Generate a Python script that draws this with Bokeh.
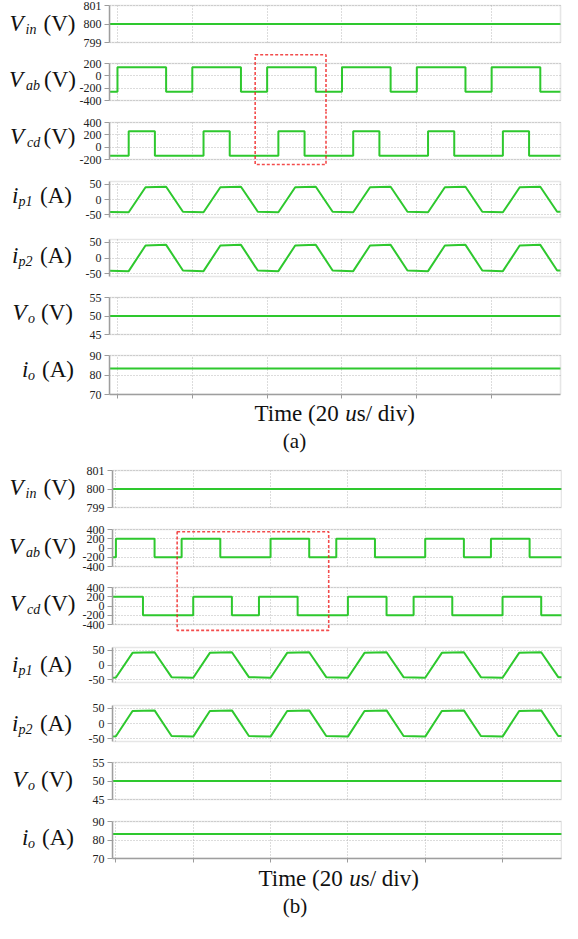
from bokeh.plotting import figure
from bokeh.layouts import column, row
from bokeh.models import Range1d, FixedTicker, Grid, Label, BoxAnnotation, LinearAxis
from bokeh.embed import file_html
from bokeh.resources import INLINE

# ===================== DATA =====================
X_TICKS = [0, 20, 40, 60, 80, 100]          # time grid, 20 us per division

PANEL_SYMBOL = ["V", "V", "V", "i", "i", "V", "i"]
PANEL_SUB = ["in", "ab", "cd", "p1", "p2", "o", "o"]
PANEL_UNIT = ["(V)", "(V)", "(V)", "(A)", "(A)", "(V)", "(A)"]
TIME_LABEL = ["Time (20", "u", "s/ div)"]
GROUP_TAGS = ["(a)", "(b)"]

# y ticks / ranges
YT_VIN = [799, 800, 801]
YT_VAB_A = [-400, -200, 0, 200]
YT_VCD_A = [-200, 0, 200, 400]
YT_VAB_B = [-400, -200, 0, 200, 400]
YT_VCD_B = [-400, -200, 0, 200, 400]
YT_IP = [-50, 0, 50]
YT_VO = [45, 50, 55]
YT_IO = [70, 80, 90]

YR_VIN = [799, 801]
YR_VAB_A = [-400, 200]
YR_VCD_A = [-200, 400]
YR_VAB_B = [-400, 400]
YR_VCD_B = [-400, 400]
YR_IP = [-59, 59]
YR_VO = [45, 55]
YR_IO = [70, 90]

# ---------- (a) ----------
XR_A = [-2.13, 118.4]
t_dc_a = [-2.13, 118.4]
vin_a = [800, 800]
vo_a = [50, 50]
io_a = [83.3, 83.3]
t_vab_a = [-2.13, 0, 13, 20, 33, 40, 53, 60, 73, 80, 93, 100, 113, 118.4]
vab_a = [-260, 140, -260, 140, -260, 140, -260, 140, -260, 140, -260, 140, -260, -260]
t_vcd_a = [-2.13, 3, 10, 23, 30, 43, 50, 63, 70, 83, 90, 103, 110, 118.4]
vcd_a = [-140, 260, -140, 260, -140, 260, -140, 260, -140, 260, -140, 260, -140, -140]
t_ip_a = [-2.13, 3, 7.5, 13, 17.5, 23, 27.5, 33, 37.5, 43, 47.5, 53, 57.5, 63,
          67.5, 73, 77.5, 83, 87.5, 93, 97.5, 103, 107.5, 113, 117.5, 118.4]
ip1_a = [-41, -42, 40, 42, -40, -42, 40, 42, -40, -42, 40, 42, -40, -42,
         40, 42, -40, -42, 40, 42, -40, -42, 40, 42, -40, -40.2]
ip2_a = [-41, -42, 40, 42, -40, -42, 40, 42, -40, -42, 40, 42, -40, -42,
         40, 42, -40, -42, 40, 42, -40, -42, 40, 42, -40, -40.2]

# ---------- (b) ----------
XR_B = [-0.88, 115.25]
t_dc_b = [-0.88, 115.25]
vin_b = [800, 800]
vo_b = [50, 50]
io_b = [83.2, 83.2]
t_vab_b = [-0.88, 0, 10, 17, 27, 40, 50, 57, 67, 80, 90, 97, 107, 115.25]
vab_b = [-200, 200, -200, 200, -200, 200, -200, 200, -200, 200, -200, 200, -200, -200]
t_vcd_b = [-0.88, 7, 20, 30, 37, 47, 60, 70, 77, 87, 100, 110, 115.25]
vcd_b = [200, -200, 200, -200, 200, -200, 200, -200, 200, -200, 200, -200, -200]
t_ip_b = [-0.88, 0, 4.3, 10, 14.4, 20, 24.3, 30, 34.4, 40, 44.3, 50, 54.4, 60,
          64.3, 70, 74.4, 80, 84.3, 90, 94.4, 100, 104.3, 110, 114.4, 115.25]
ip1_b = [-43, -42, 41, 43, -41, -43, 41, 43, -41, -43, 41, 43, -41, -43,
         41, 43, -41, -43, 41, 43, -41, -43, 41, 43, -41, -41.3]
ip2_b = [-43, -42, 41, 43, -41, -43, 41, 43, -41, -43, 41, 43, -41, -43,
         41, 43, -41, -43, 41, 43, -41, -43, 41, 43, -41, -41.3]

# ===================== LAYOUT / STYLE =====================
W = 562
FONT = "Liberation Serif"
GREEN = "#2ec82e"
GRID = "#b8b8b8"
OUTLINE = "#ababab"
AXIS = "#9c9c9c"
TXT = "#111111"
RED = "#f01e1e"
LB = 32          # room for the y tick labels
XSH = -6         # horizontal shift of the reference positions
FS_NAME = 23
FS_SUB = 14
FS_TICK = "12px"


def ty(y):
    return 1 + 0.98 * y


FR_A = [(4, 42), (63, 101), (123, 161), (183.3, 220.7), (243.3, 280.3), (302, 339.7), (361.7, 400.7)]
FR_B = [(478.3, 516.7), (538.7, 576.3), (598, 635.7), (659, 695.3), (718.3, 755.3), (776.7, 814.3), (836.7, 874.3)]
DY_A = [-1, -2.5, -4, -4, -3, -3.5, -6]
DY_B = [-1.5, -1, -2.5, -0.5, 0, -1.3, -2.2]
LAB_X = [(15, 31, 81), (14.5, 31.5, 81.5), (15.5, 32.5, 81), (17.5, 24, 77.5),
         (17.5, 24, 77.5), (18, 33.5, 78.5), (27.5, 33.5, 79.5)]


def lab(p, x, y, s, size, style="normal", align="left"):
    p.add_layout(Label(x=x, y=y, x_units="screen", y_units="screen", text=s,
                       text_font=FONT, text_font_size=f"{size}px", text_font_style=style,
                       text_align=align, text_baseline="middle", text_color=TXT))


def blank_fig(w, h):
    f = figure(width=w, height=h, x_range=Range1d(0, 1), y_range=Range1d(0, 1),
               x_axis_type=None, y_axis_type=None, toolbar_location=None, output_backend="svg",
               min_border_left=0, min_border_right=0, min_border_top=0, min_border_bottom=0)
    f.outline_line_color = None
    f.background_fill_color = "white"
    f.border_fill_color = "white"
    return f


def build_group(frames, pl_ref, pr_ref, xr, panels, top, bottom, dys,
                time_x, time_mid, tag, tag_x, tag_mid, box):
    pl = round(pl_ref + XSH)
    pr = round(pr_ref + XSH)
    ft = [round(ty(a)) for a, b in frames]
    fb = [round(ty(b)) for a, b in frames]
    io_bot = fb[6] + 8
    bounds = [top] + [round((fb[i] + ft[i + 1]) / 2) for i in range(6)] + [io_bot]
    spx = (xr[1] - xr[0]) / (pr - pl)
    x_end = xr[1] + (W - pr) * spx
    LW = pl - LB
    figs = []
    for i, (yr, yt, kind, t, v) in enumerate(panels):
        fig_top, fig_bot = bounds[i], bounds[i + 1]
        frame_bot = fb[i] if i == 6 else fig_bot
        ymin, ymax = yr
        s = (ymax - ymin) / (fb[i] - ft[i])
        y0 = ymin - (frame_bot - fb[i]) * s
        y1 = ymax + (ft[i] - fig_top) * s
        p = figure(width=W - LW, height=fig_bot - fig_top,
                   x_range=Range1d(xr[0], x_end), y_range=Range1d(y0, y1),
                   x_axis_type=None, toolbar_location=None, output_backend="svg",
                   min_border_left=LB, min_border_right=0, min_border_top=0,
                   min_border_bottom=fig_bot - frame_bot)
        p.background_fill_color = "white"
        p.border_fill_color = "white"
        p.outline_line_color = None
        ax = p.yaxis[0]
        ax.ticker = FixedTicker(ticks=yt)
        ax.bounds = (ymin, ymax)
        ax.major_label_overrides = {k: str(k) for k in yt}
        ax.axis_line_color = AXIS
        ax.axis_line_width = 1.5
        ax.major_tick_line_color = AXIS
        ax.major_tick_in = 0
        ax.major_tick_out = 5
        ax.minor_tick_line_color = None
        ax.major_label_text_font = FONT
        ax.major_label_text_font_size = FS_TICK
        ax.major_label_text_color = "#222222"
        ax.major_label_standoff = 3
        p.ygrid.grid_line_color = GRID
        p.ygrid.grid_line_dash = "1 2"
        p.ygrid.cross_bounds = (xr[0], xr[1])
        p.add_layout(Grid(dimension=0, ticker=FixedTicker(ticks=X_TICKS), cross_bounds=(ymin, ymax),
                          grid_line_color=GRID, grid_line_dash="1 2"))
        if kind == "step":
            p.step(t, v, mode="after", line_color=GREEN, line_width=2)
        else:
            p.line(t, v, line_color=GREEN, line_width=2)
        # panel frame
        p.add_layout(BoxAnnotation(left=xr[0], right=xr[1], bottom=ymin, top=ymax,
                                   fill_color=None, line_color=OUTLINE, line_width=1.6))
        # dashed highlight box spanning V_ab and V_cd panels
        if i in (1, 2):
            btop = ymin + (fb[i] - ty(box[2])) * s if i == 1 else y1 + 1000 * s
            bbot = y0 - 1000 * s if i == 1 else ymin + (fb[i] - ty(box[3])) * s
            p.add_layout(BoxAnnotation(left=box[0], right=box[1], top=btop, bottom=bbot,
                                       fill_color=None, line_color=RED, line_alpha=0.8,
                                       line_dash="3 2", line_width=1.6))
        if i == 6:
            xa = LinearAxis(ticker=FixedTicker(ticks=X_TICKS),
                            major_label_overrides={k: "" for k in X_TICKS})
            xa.bounds = (xr[0], xr[1])
            xa.axis_line_color = AXIS
            xa.axis_line_width = 1.5
            xa.major_tick_line_color = AXIS
            xa.major_tick_in = 0
            xa.major_tick_out = 4
            xa.minor_tick_line_color = None
            xa.major_label_text_font_size = "1px"
            xa.major_label_standoff = 0
            p.add_layout(xa, "below")
        figs.append(p)

    # left figure with the panel names
    lf = blank_fig(LW, io_bot - top)
    for i in range(7):
        mid = ty((frames[i][0] + frames[i][1]) / 2 + dys[i])
        xm, xs, xu = LAB_X[i]
        lab(lf, xm + XSH, io_bot - mid, PANEL_SYMBOL[i], FS_NAME, "italic")
        lab(lf, xs + XSH, io_bot - mid - 6, PANEL_SUB[i], FS_SUB, "italic")
        lab(lf, xu + XSH, io_bot - mid, PANEL_UNIT[i], FS_NAME, "normal", "right")

    # bottom figure with the time label and the sub-figure tag
    tf = blank_fig(W, bottom - io_bot)
    fs = 23
    yb = bottom - ty(time_mid)
    x0 = time_x + XSH
    lab(tf, x0, yb, TIME_LABEL[0], fs)
    xu_ = x0 + (3.694 + 0.25) * fs
    lab(tf, xu_, yb, TIME_LABEL[1], fs, "italic")
    lab(tf, xu_ + 0.5 * fs, yb, TIME_LABEL[2], fs)
    lab(tf, tag_x + XSH, bottom - ty(tag_mid), tag, 21, "normal", "center")

    return column(row(lf, column(*figs, spacing=0), spacing=0), tf, spacing=0)


panels_a = [
    (YR_VIN, YT_VIN, "line", t_dc_a, vin_a),
    (YR_VAB_A, YT_VAB_A, "step", t_vab_a, vab_a),
    (YR_VCD_A, YT_VCD_A, "step", t_vcd_a, vcd_a),
    (YR_IP, YT_IP, "line", t_ip_a, ip1_a),
    (YR_IP, YT_IP, "line", t_ip_a, ip2_a),
    (YR_VO, YT_VO, "line", t_dc_a, vo_a),
    (YR_IO, YT_IO, "line", t_dc_a, io_a),
]
panels_b = [
    (YR_VIN, YT_VIN, "line", t_dc_b, vin_b),
    (YR_VAB_B, YT_VAB_B, "step", t_vab_b, vab_b),
    (YR_VCD_B, YT_VCD_B, "step", t_vcd_b, vcd_b),
    (YR_IP, YT_IP, "line", t_ip_b, ip1_b),
    (YR_IP, YT_IP, "line", t_ip_b, ip2_b),
    (YR_VO, YT_VO, "line", t_dc_b, vo_b),
    (YR_IO, YT_IO, "line", t_dc_b, io_b),
]

split = round(ty(467))
grp_a = build_group(FR_A, 114, 566, XR_A, panels_a, 0, split, DY_A,
                    260, 420, GROUP_TAGS[0], 300, 448, (36.8, 55.73, 54.3, 166.3))
grp_b = build_group(FR_B, 117, 566.7, XR_B, panels_b, split, 922, DY_B,
                    264, 895, GROUP_TAGS[1], 300.5, 923, (15.84, 55.04, 541, 641.7))

layout = column(grp_a, grp_b, spacing=0)
open("out.html", "w").write(file_html(layout, INLINE))
